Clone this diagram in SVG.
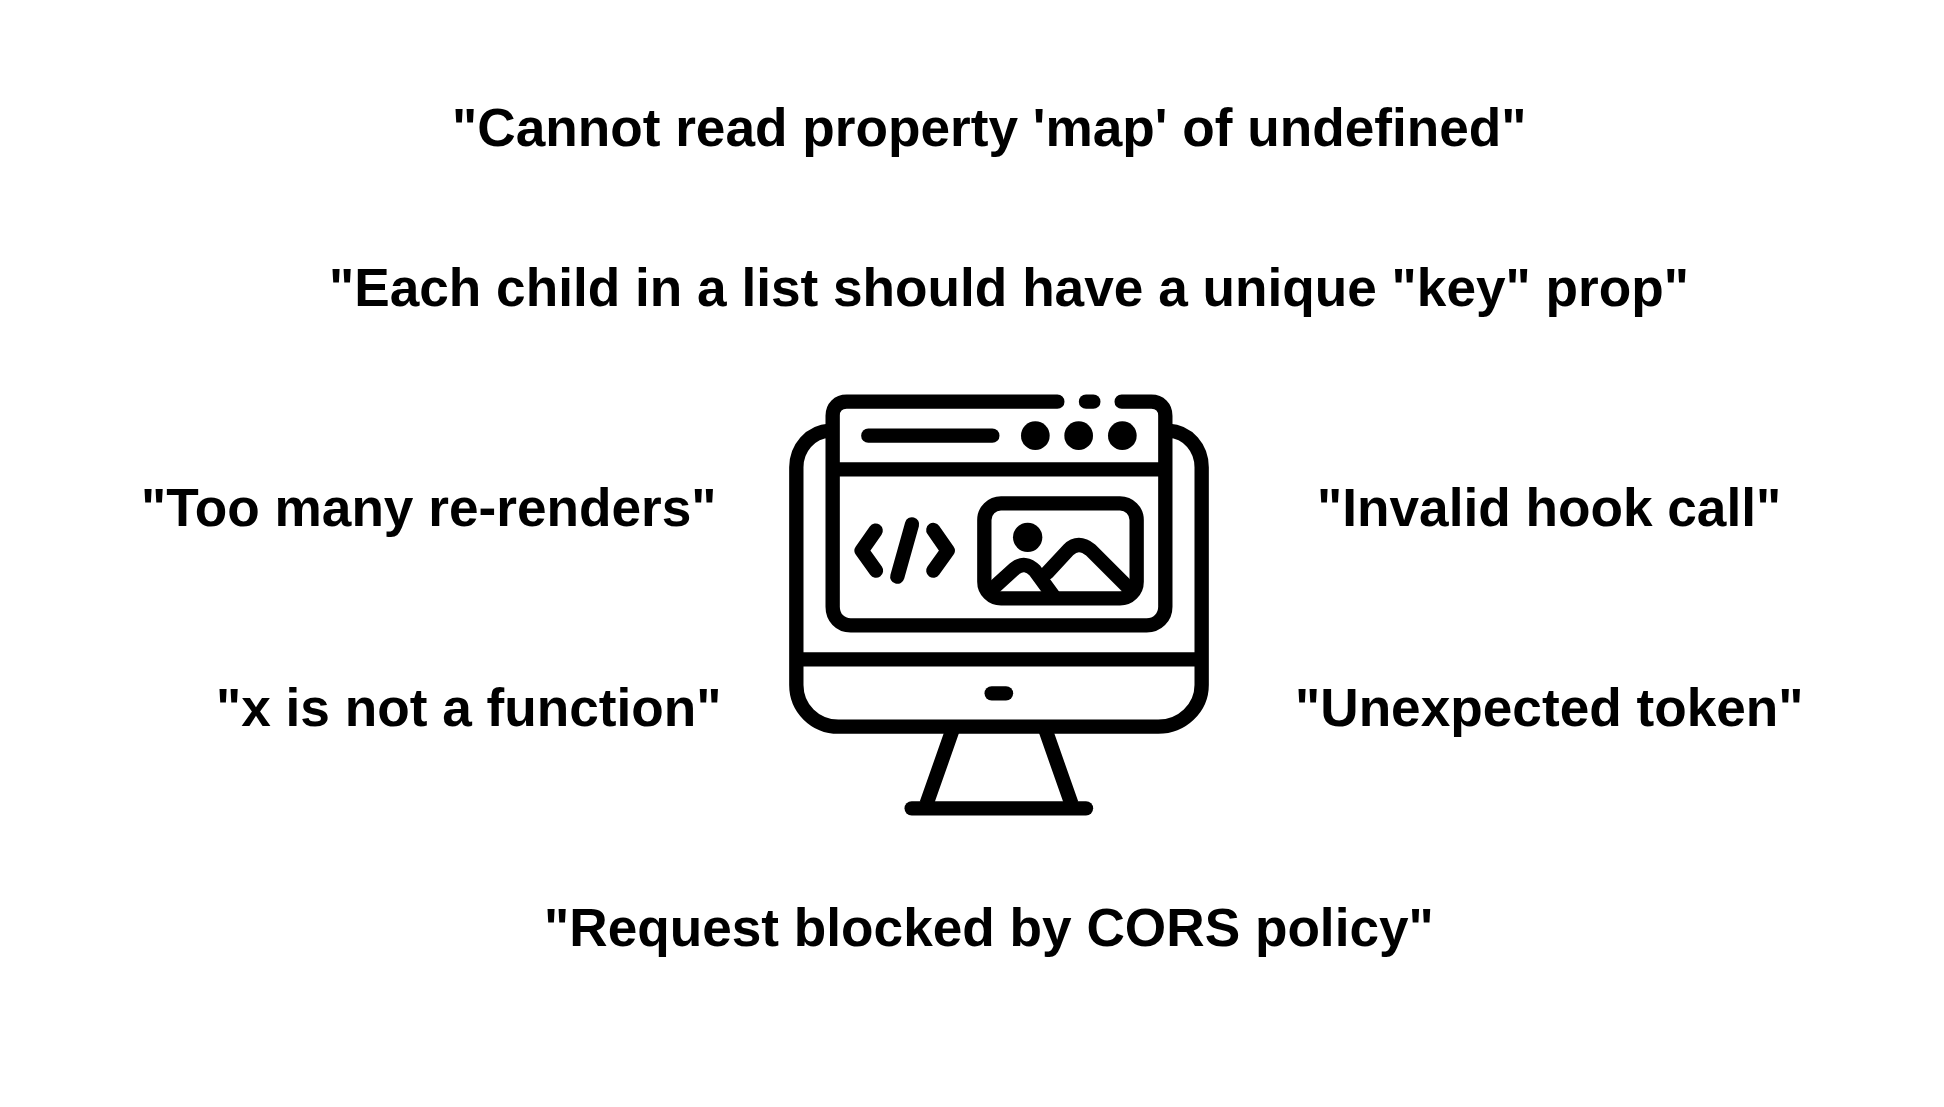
<svg xmlns="http://www.w3.org/2000/svg" width="1944" height="1107" viewBox="0 0 1944 1107">
<style>
.t{font-family:"Liberation Sans",Arial,sans-serif;font-weight:700;font-size:53.2px;fill:#000}
.s{fill:none;stroke:#000;stroke-width:43;stroke-linecap:round;stroke-linejoin:round}
.b{fill:none;stroke:#000;stroke-width:43;stroke-linecap:butt}
</style>
<rect width="1944" height="1107" fill="#fff"/>
<g id="error-map"><text class="t" x="452" y="146">"Cannot read property 'map' of undefined"</text></g>
<g id="error-key"><text class="t" x="329" y="306">"Each child in a list should have a unique "key" prop"</text></g>
<g id="error-renders"><text class="t" x="141" y="526">"Too many re-renders"</text></g>
<g id="error-hook"><text class="t" x="1317" y="526">"Invalid hook call"</text></g>
<g id="error-function"><text class="t" x="216" y="726">"x is not a function"</text></g>
<g id="error-token"><text class="t" x="1295" y="726">"Unexpected token"</text></g>
<g id="error-cors"><text class="t" x="544" y="946">"Request blocked by CORS policy"</text></g>
<g id="computer-icon" transform="translate(760 380) scale(.33333)">
<path class="b" d="M210 152C150 155 109 205 109 262V915C109 985 165 1040 235 1040H1195C1265 1040 1325 985 1325 915V262C1325 205 1285 155 1225 152"/>
<path class="b" d="M109 838H1325"/>
<path class="s" d="M892 65H260C235 65 218 82 218 107V680C218 712 240 736 272 736H1160C1192 736 1216 712 1216 680V107C1216 82 1199 65 1174 65H1085"/>
<path class="s" d="M978 65H1000"/>
<path class="b" d="M218 268H1216"/>
<path class="s" d="M325 167H697" stroke-width="40"/>
<circle cx="826" cy="167" r="43"/><circle cx="956" cy="167" r="43"/><circle cx="1087" cy="167" r="43"/>
<path class="s" d="M347 452L305 512L348 572"/>
<path class="s" d="M456 433L412 590"/>
<path class="s" d="M520 450L563 512L520 572"/>
<rect class="s" x="673" y="370" width="457" height="285" rx="50"/>
<circle cx="803" cy="472" r="44"/>
<path class="s" stroke-linecap="butt" d="M702 622L765 565Q795 542 825 572L882 650"/>
<path class="s" stroke-linecap="butt" d="M862 578L925 510Q955 480 992 510L1112 630"/>
<path class="s" d="M695 940H738"/>
<path class="b" d="M577.5 1050L499.5 1272M856.5 1050L934.5 1272"/>
<path class="s" d="M455 1285H978"/>
</g>
</svg>
